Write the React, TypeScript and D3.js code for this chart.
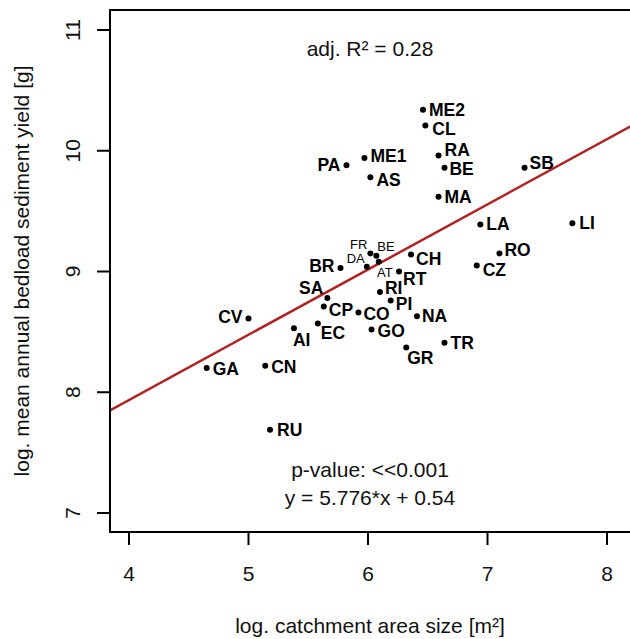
import React from "react";
import * as d3 from "d3";

const siteNames = ["ME2","CL","RA","BE","MA","PA","ME1","AS","SB","LA","LI","RO","CZ","CH","FR","BE","AT","DA","BR","RT","RI","SA","PI","CP","CO","NA","CV","EC","AI","GO","GR","TR","GA","CN","RU"];
const logArea = [6.46,6.48,6.59,6.64,6.59,5.82,5.97,6.02,7.31,6.94,7.71,7.10,6.91,6.36,6.02,6.07,6.09,5.99,5.77,6.26,6.10,5.66,6.19,5.63,5.92,6.41,5.00,5.58,5.38,6.03,6.32,6.64,4.65,5.14,5.18];
const logYield = [10.34,10.21,9.96,9.86,9.62,9.88,9.94,9.78,9.86,9.39,9.40,9.15,9.05,9.14,9.15,9.13,9.08,9.04,9.03,9.00,8.83,8.78,8.76,8.71,8.66,8.63,8.61,8.57,8.53,8.52,8.37,8.41,8.20,8.22,7.69];
const smallLabel = [false,false,false,false,false,false,false,false,false,false,false,false,false,false,true,true,true,true,false,false,false,false,false,false,false,false,false,false,false,false,false,false,false,false,false];
// label placement: [anchor, dx, dy]
const labelPlace: [string, number, number][] = [
  ["start",6,0],["start",7,4],["start",6,-6],["start",5,1],["start",6,0],["end",-6,0],["start",6,-2],["start",6,3],["start",5,-5],["start",6,0],
  ["start",7,0],["start",5,-3],["start",6,5],["start",5,4],["end",-3,-9],["start",1,-9],["middle",6,11],["end",-2,-8],["end",-6,-2],["start",4,7],
  ["start",5,-4],["end",-4,-10],["start",5,4],["start",5,3],["start",5,1],["start",5,0],["end",-6,-2],["start",3,10],["start",-1,12],["start",6,2],
  ["start",1,10],["start",6,0],["start",6,1],["start",6,1],["start",7,0]
];
const xTicks = [4,5,6,7,8];
const yTicks = [7,8,9,10,11];
const slope = 0.54;
const intercept = 5.776;
const statR2 = "adj. R² = 0.28";
const statP = "p-value: <<0.001";
const statEq = "y = 5.776*x + 0.54";

export default function App() {
  const W = 630, H = 639;
  const box = { l: 110, r: 631, t: 10, b: 532 };
  const x = d3.scaleLinear().domain([4, 8]).range([129, 607]);
  const y = d3.scaleLinear().domain([7, 11]).range([513, 30]);
  const x0 = x.invert(box.l), x1 = x.invert(box.r);
  const line = d3.line<number>().x(v => x(v)).y(v => y(slope * v + intercept));
  const font = "'Liberation Sans', Arial, sans-serif";
  const fs = 21;
  return (
    <svg width={W} height={H} style={{ position: "absolute", left: 0, top: 0, background: "#fff" }} fontFamily={font}>
      <rect x={0} y={0} width={W} height={H} fill="#fff" />
      <defs>
        <clipPath id="plotclip"><rect x={box.l} y={box.t} width={box.r - box.l} height={box.b - box.t} /></clipPath>
      </defs>
      <path d={line([x0, x1]) || ""} stroke="#b22222" strokeWidth={2.5} fill="none" clipPath="url(#plotclip)" />
      <rect x={box.l} y={box.t} width={box.r - box.l} height={box.b - box.t} fill="none" stroke="#000" strokeWidth={2} />
      {xTicks.map(t => (
        <g key={"x" + t}>
          <line x1={x(t)} x2={x(t)} y1={box.b} y2={box.b + 13} stroke="#000" strokeWidth={2} />
          <text x={x(t)} y={573} textAnchor="middle" dominantBaseline="central" fontSize={fs} fill="#111">{t}</text>
        </g>
      ))}
      {yTicks.map(t => (
        <g key={"y" + t}>
          <line x1={box.l - 13} x2={box.l} y1={y(t)} y2={y(t)} stroke="#000" strokeWidth={2} />
          <text transform={`translate(${72},${y(t)}) rotate(-90)`} textAnchor="middle" dominantBaseline="central" fontSize={fs} fill="#111">{t}</text>
        </g>
      ))}
      <text x={(box.l + 630) / 2} y={625} textAnchor="middle" dominantBaseline="central" fontSize={fs} fill="#111">log. catchment area size [m²]</text>
      <text transform={`translate(${21},${(box.t + box.b) / 2}) rotate(-90)`} textAnchor="middle" dominantBaseline="central" fontSize={fs} fill="#111">log. mean annual bedload sediment yield [g]</text>
      <text x={370} y={48} textAnchor="middle" dominantBaseline="central" fontSize={fs} fill="#111">{statR2}</text>
      <text x={370} y={469} textAnchor="middle" dominantBaseline="central" fontSize={fs} fill="#111">{statP}</text>
      <text x={370} y={497} textAnchor="middle" dominantBaseline="central" fontSize={fs} fill="#111">{statEq}</text>
      {siteNames.map((n, i) => {
        const cx = x(logArea[i]), cy = y(logYield[i]);
        const [anchor, dx, dy] = labelPlace[i];
        const small = smallLabel[i];
        return (
          <g key={"p" + i}>
            <circle cx={cx} cy={cy} r={3} fill="#000" />
            <text x={cx + dx} y={cy + dy} textAnchor={anchor as any} dominantBaseline="central"
              fontSize={small ? 13 : 17.5} fontWeight={small ? "normal" : "bold"} fill="#000">{n}</text>
          </g>
        );
      })}
    </svg>
  );
}
